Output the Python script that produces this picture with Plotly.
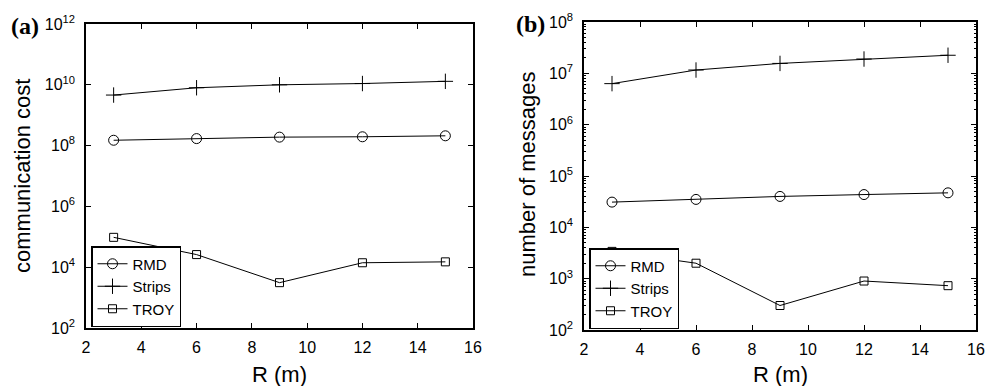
import plotly.graph_objects as go

R = [3, 6, 9, 12, 15]

# (a) communication cost
cost_rmd = [1.5e8, 1.7e8, 1.9e8, 1.95e8, 2.1e8]
cost_strips = [4.6e9, 8.0e9, 1.0e10, 1.1e10, 1.3e10]
cost_troy = [9.6e4, 2.6e4, 3.1e3, 1.4e4, 1.5e4]

# (b) number of messages
msg_rmd = [3.1e4, 3.5e4, 4.0e4, 4.35e4, 4.7e4]
msg_strips = [6.3e6, 1.16e7, 1.56e7, 1.9e7, 2.25e7]
msg_troy = [3.4e3, 2.0e3, 3.0e2, 9.0e2, 7.3e2]

x_ticks = [2, 4, 6, 8, 10, 12, 14, 16]
ya_tickvals = [1e2, 1e4, 1e6, 1e8, 1e10, 1e12]
ya_ticktext = ["10<sup>2</sup>", "10<sup>4</sup>", "10<sup>6</sup>", "10<sup>8</sup>",
               "10<sup>10</sup>", "10<sup>12</sup>"]
yb_tickvals = [1e2, 1e3, 1e4, 1e5, 1e6, 1e7, 1e8]
yb_ticktext = ["10<sup>2</sup>", "10<sup>3</sup>", "10<sup>4</sup>", "10<sup>5</sup>",
               "10<sup>6</sup>", "10<sup>7</sup>", "10<sup>8</sup>"]

names = ["RMD", "Strips", "TROY"]
symbols = ["circle-open", "cross-thin-open", "square-open"]
sizes = [10, 11, 8]

FONT = "Liberation Sans, Arial, sans-serif"
fig = go.Figure()

for name, ys, sym, sz in zip(names, [cost_rmd, cost_strips, cost_troy], symbols, sizes):
    fig.add_trace(go.Scatter(x=R, y=ys, name=name, mode="lines+markers",
                             line=dict(color="black", width=1),
                             marker=dict(symbol=sym, size=sz, color="black",
                                         line=dict(color="black", width=1)),
                             xaxis="x", yaxis="y", legend="legend"))
for name, ys, sym, sz in zip(names, [msg_rmd, msg_strips, msg_troy], symbols, sizes):
    fig.add_trace(go.Scatter(x=R, y=ys, name=name, mode="lines+markers",
                             line=dict(color="black", width=1),
                             marker=dict(symbol=sym, size=sz, color="black",
                                         line=dict(color="black", width=1)),
                             xaxis="x2", yaxis="y2", legend="legend2"))

W, H = 985, 386
axis_common = dict(showline=True, linecolor="black", linewidth=1.5, mirror="ticks",
                   ticks="inside", ticklen=5, tickcolor="black", tickwidth=1,
                   showgrid=False, zeroline=False, automargin=False,
                   tickfont=dict(family=FONT, size=16, color="black"))

legend_common = dict(bgcolor="white", bordercolor="black", borderwidth=1.5,
                     font=dict(family=FONT, size=15, color="black"),
                     xanchor="left", yanchor="bottom", itemwidth=30,
                     tracegroupgap=0)

fig.update_layout(
    width=W, height=H,
    margin=dict(l=0, r=0, t=0, b=0),
    paper_bgcolor="white", plot_bgcolor="white",
    font=dict(family=FONT, color="black"),
    xaxis=dict(domain=[86 / W, 473 / W], range=[2, 16], tickvals=x_ticks,
               anchor="y", ticklabelstandoff=4, **axis_common),
    yaxis=dict(domain=[1 - 328 / H, 1 - 24 / H], type="log", range=[2, 12],
               tickvals=ya_tickvals, ticktext=ya_ticktext, anchor="x",
               ticklabelstandoff=6, **axis_common),
    xaxis2=dict(domain=[584 / W, 976 / W], range=[2, 16], tickvals=x_ticks,
                anchor="y2", ticklabelstandoff=4, **axis_common),
    yaxis2=dict(domain=[1 - 330 / H, 1 - 22 / H], type="log", range=[2, 8],
                tickvals=yb_tickvals, ticktext=yb_ticktext, anchor="x2",
                ticklabelstandoff=6,
                minor=dict(ticks="inside", ticklen=2, tickcolor="black", dtick="D1"),
                **axis_common),
    legend=dict(x=91 / W, y=1 - 327 / H, **legend_common),
    legend2=dict(x=589 / W, y=1 - 329 / H, **legend_common),
    showlegend=True,
)

ann_font = dict(family=FONT, size=22, color="black")
panel_font = dict(family="Liberation Serif, Times New Roman, serif", size=24, color="black")
annotations = [
    dict(text="communication cost", x=22 / W, y=1 - 176 / H, textangle=-90, font=ann_font),
    dict(text="number of messages", x=527 / W, y=1 - 175 / H, textangle=-90, font=ann_font),
    dict(text="R (m)", x=279.5 / W, y=1 - 374 / H, font=ann_font),
    dict(text="R (m)", x=780 / W, y=1 - 374 / H, font=ann_font),
    dict(text="<b>(a)</b>", x=25 / W, y=1 - 26 / H, font=panel_font),
    dict(text="<b>(b)</b>", x=530 / W, y=1 - 24 / H, font=panel_font),
]
for a in annotations:
    fig.add_annotation(xref="paper", yref="paper", showarrow=False,
                       xanchor="center", yanchor="middle", **a)

fig.write_html("out.html")
